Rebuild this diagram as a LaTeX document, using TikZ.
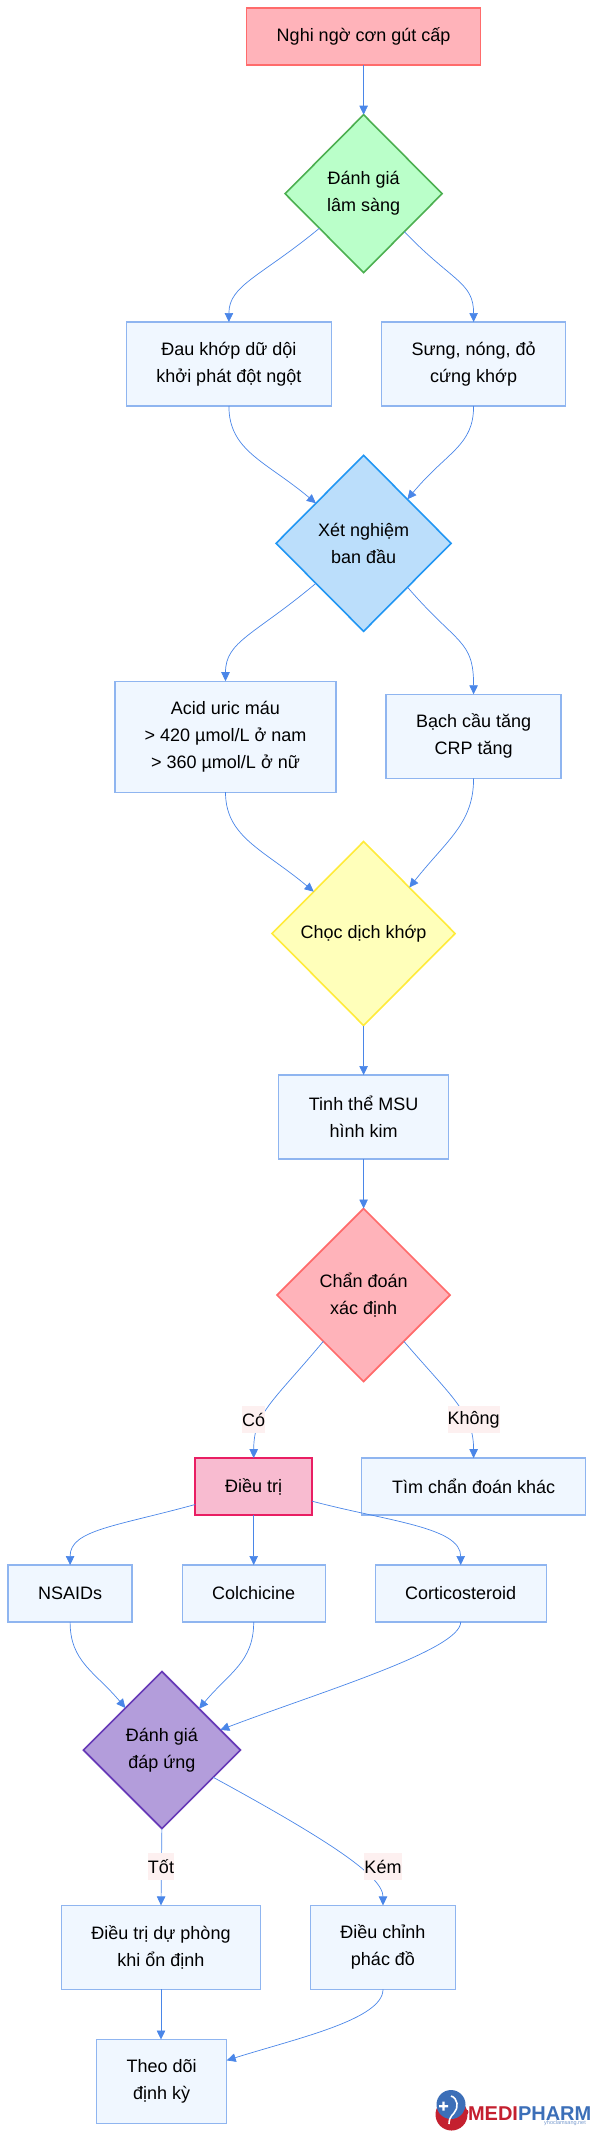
\documentclass[tikz,border=0pt]{standalone}
\usepackage{fontspec}
\setmainfont{Liberation Sans}
\usetikzlibrary{shapes.geometric, arrows.meta}
\definecolor{flowblue}{HTML}{4A86E8}
\definecolor{boxedge}{HTML}{8FB5F0}
\definecolor{boxfill}{HTML}{F0F7FF}
\definecolor{coralfill}{HTML}{FFB3BA}
\definecolor{coraledge}{HTML}{FF6B6B}
\definecolor{mintfill}{HTML}{BAFFC9}
\definecolor{mintedge}{HTML}{4CAF50}
\definecolor{skyfill}{HTML}{BBDEFB}
\definecolor{skyedge}{HTML}{2196F3}
\definecolor{lemonfill}{HTML}{FFFFBA}
\definecolor{lemonedge}{HTML}{FFEB3B}
\definecolor{rosefill}{HTML}{F8BBD0}
\definecolor{roseedge}{HTML}{E91E63}
\definecolor{violetfill}{HTML}{B39DDB}
\definecolor{violetedge}{HTML}{673AB7}
\definecolor{labelfill}{HTML}{FDF0F0}
\definecolor{logored}{HTML}{C4202F}
\definecolor{logoblue}{HTML}{3C6FB8}
\tikzset{
    basenode/.style={inner sep=0pt, outer sep=0pt, align=center, text=black, font=\fontsize{18}{27}\selectfont},
    infobox/.style={basenode, rectangle, draw=boxedge, fill=boxfill, line width=1.3pt},
    decision/.style={basenode, diamond, aspect=1, line width=1.6pt},
    flow/.style={draw=flowblue, line width=0.7pt, -{Triangle[length=9pt, width=8.5pt]}},
    edgelabel/.style={basenode, fill=labelfill, minimum height=27pt},
}

\begin{document}
\begin{tikzpicture}[x=1pt, y=-1pt]
    \useasboundingbox (0,0) rectangle (593,2131);
    % nodes
    \node[basenode, rectangle, draw=coraledge, fill=coralfill, line width=1.6pt, minimum width=234pt, minimum height=57pt] (start) at (363.6,36.5) {Nghi ngờ cơn gút cấp};
    \node[decision, draw=mintedge, fill=mintfill, minimum width=157pt, minimum height=158pt] (clinical) at (363.6,193.7) {Đánh giá\\lâm sàng};
    \node[infobox, minimum width=205pt, minimum height=84pt] (pain) at (228.9,364) {Đau khớp dữ dội\\khởi phát đột ngột};
    \node[infobox, minimum width=184pt, minimum height=84pt] (swell) at (473.6,364) {Sưng, nóng, đỏ\\cứng khớp};
    \node[decision, draw=skyedge, fill=skyfill, minimum width=175pt, minimum height=176pt] (labtest) at (363.6,543.3) {Xét nghiệm\\ban đầu};
    \node[infobox, minimum width=221pt, minimum height=111pt] (uric) at (225.5,736.7) {Acid uric máu\\> 420 µmol/L ở nam\\> 360 µmol/L ở nữ};
    \node[infobox, minimum width=175pt, minimum height=84pt] (crp) at (473.6,736.3) {Bạch cầu tăng\\CRP tăng};
    \node[decision, draw=lemonedge, fill=lemonfill, minimum width=183pt, minimum height=184pt] (puncture) at (363.6,933.5) {Chọc dịch khớp};
    \node[infobox, minimum width=170pt, minimum height=84pt] (crystal) at (363.6,1117) {Tinh thể MSU\\hình kim};
    \node[decision, draw=coraledge, fill=coralfill, minimum width=173pt, minimum height=173pt] (diagnosis) at (363.6,1295) {Chẩn đoán\\xác định};
    \node[basenode, rectangle, draw=roseedge, fill=rosefill, line width=1.6pt, minimum width=117pt, minimum height=57pt] (treat) at (253.7,1486.6) {Điều trị};
    \node[infobox, minimum width=224pt, minimum height=57pt] (other) at (473.6,1486.6) {Tìm chẩn đoán khác};
    \node[infobox, minimum width=124pt, minimum height=57pt] (nsaids) at (70.1,1593.5) {NSAIDs};
    \node[infobox, minimum width=143pt, minimum height=57pt] (colch) at (253.7,1593.5) {Colchicine};
    \node[infobox, minimum width=171pt, minimum height=57pt] (cortico) at (460.7,1593.5) {Corticosteroid};
    \node[decision, draw=violetedge, fill=violetfill, minimum width=157pt, minimum height=157pt] (response) at (161.9,1750) {Đánh giá\\đáp ứng};
    \node[infobox, minimum width=199pt, minimum height=84pt] (prevent) at (161,1947.4) {Điều trị dự phòng\\khi ổn định};
    \node[infobox, minimum width=145pt, minimum height=84pt] (adjust) at (383,1947.4) {Điều chỉnh\\phác đồ};
    \node[infobox, minimum width=130pt, minimum height=84pt] (followup) at (161.7,2081.5) {Theo dõi\\định kỳ};

    % connectors
    \draw[flow] (start.south) -- (clinical.north);
    \draw[flow] (clinical.218) .. controls +(-58,48) and +(0,-37) .. (pain.north);
    \draw[flow] (clinical.-43) .. controls +(48,50) and +(0,-40) .. (swell.north);
    \draw[flow] (pain.south) .. controls +(0,45) and +(-50,-42) .. (labtest.140);
    \draw[flow] (swell.south) .. controls +(0,40) and +(40,-48) .. (labtest.north east);
    \draw[flow] (labtest.220) .. controls +(-62,52) and +(0,-40) .. (uric.north);
    \draw[flow] (labtest.-45) .. controls +(50,58) and +(0,-55) .. (crp.north);
    \draw[flow] (uric.south) .. controls +(0,45) and +(-50,-42) .. (puncture.140);
    \draw[flow] (crp.south) .. controls +(0,45) and +(38,-48) .. (puncture.north east);
    \draw[flow] (puncture.south) -- (crystal.north);
    \draw[flow] (crystal.south) -- (diagnosis.north);
    \draw[flow] (diagnosis.229) .. controls +(-50,60) and +(0,-45) .. (treat.north);
    \draw[flow] (diagnosis.-49) .. controls +(48,56) and +(0,-45) .. (other.north);
    \draw[flow] (treat.197) .. controls +(-80,22) and +(0,-35) .. (nsaids.north);
    \draw[flow] (treat.south) -- (colch.north);
    \draw[flow] (treat.-14) .. controls +(75,20) and +(0,-38) .. (cortico.north);
    \draw[flow] (nsaids.south) .. controls +(0,40) and +(-30,-36) .. (response.131);
    \draw[flow] (colch.south) .. controls +(0,40) and +(30,-36) .. (response.48);
    \draw[flow] (cortico.south) .. controls +(0,28) and +(100,-38) .. (response.19);
    \draw[flow] (response.south) -- (prevent.north);
    \draw[flow] (response.-28) .. controls +(110,60) and +(0,-30) .. (adjust.north);
    \draw[flow] (prevent.south) -- (prevent.south |- followup.north);
    \draw[flow] (adjust.south) .. controls +(0,30) and +(70,-22) .. (followup.18);

    % edge labels
    \node[edgelabel] (lblyes) at (253.7,1419.5) {Có};
    \node[edgelabel] (lblno) at (473.6,1419.5) {Không};
    \node[edgelabel] (lblgood) at (161,1866.8) {Tốt};
    \node[edgelabel] (lblpoor) at (383,1866.8) {Kém};

    % logo
    \fill[logored] (451.5,2114.5) circle (16);
    \fill[logoblue] (451,2104.5) circle (14.5);
    \draw[white, line width=1.6pt] (451,2096) .. controls (458,2098) and (459,2108) .. (454,2113) .. controls (450,2117) and (449,2120) .. (449,2124);
    \fill[white] (439,2105) rectangle (448,2107.4) (442.3,2101.7) rectangle (444.7,2110.7);
    \fill[logored] (466,2112) circle (2.5);
    \node[basenode, anchor=west, font=\bfseries\fontsize{20}{21}\selectfont] (logoname) at (468,2113.5) {\textcolor{logored}{MEDI}\textcolor{logoblue}{PHARM}};
    \node[basenode, text=logoblue!70!white, font=\fontsize{5.5}{6}\selectfont] (logosite) at (565,2123.5) {yhoclamsang.net};
\end{tikzpicture}
\end{document}
